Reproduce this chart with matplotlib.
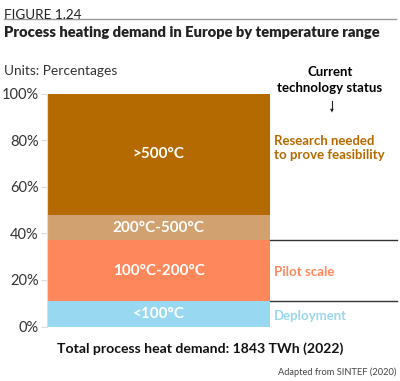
import matplotlib.pyplot as plt

plt.rcParams['font.family'] = ['Lato', 'DejaVu Sans']

ranges = ['<100°C', '100°C-200°C', '200°C-500°C', '>500°C']
shares = [11, 26, 11, 52]
colors = ['#98D8F0', '#FF875C', '#D1A26F', '#B56A00']
ticks = [0, 20, 40, 60, 80, 100]

fig = plt.figure(figsize=(4, 3.81), dpi=100)
ax = fig.add_axes([0.1175, 0.143, 0.5575, 0.611])

bottom = 0
for name, val, col in zip(ranges, shares, colors):
    ax.bar(0, val, width=1, bottom=bottom, color=col, edgecolor='none')
    ax.text(0, bottom + val / 2, name, ha='center', va='center',
            color='white', fontsize=11, fontweight='bold')
    bottom += val

ax.set_xlim(-0.5, 0.5)
ax.set_ylim(0, 100)
ax.set_yticks(ticks)
ax.set_yticklabels([f'{t}%' for t in ticks], fontsize=10.5, color='#333333')
ax.set_xticks([])
for s in ['top', 'right', 'bottom']:
    ax.spines[s].set_visible(False)
ax.spines['left'].set_color('#dddddd')
ax.tick_params(axis='y', color='#dddddd', length=4, pad=2)

# status separators on the right
for y in [shares[0], shares[0] + shares[1]]:
    ax.plot([0.5, 0.5 + 127 / 223], [y, y], color='#333333', lw=1,
            clip_on=False)

fig.text(0.01, 0.977, 'FIGURE 1.24', fontsize=9.7, color='#222222', va='top')
fig.add_artist(plt.Line2D([0.01, 0.99], [0.95, 0.95], color='#999999', lw=1))
fig.text(0.01, 0.915, 'Process heating demand in Europe by temperature range',
         fontsize=10.6, fontweight='heavy', color='#222222', va='center')
fig.text(0.01, 0.814, 'Units: Percentages', fontsize=9.9, color='#333333', va='center')

fig.text(0.825, 0.81, 'Current', fontsize=9.5, fontweight='bold', ha='center', va='center')
fig.text(0.825, 0.77, 'technology status', fontsize=9.5, fontweight='bold', ha='center', va='center')
fig.add_artist(plt.Line2D([0.83, 0.83], [0.735, 0.71], color='#222222', lw=0.8))
fig.text(0.83, 0.712, '▼', fontsize=3.5, ha='center', va='center', color='#222222',
         family='DejaVu Sans')

fig.text(0.685, 0.612, 'Research needed\nto prove feasibility', fontsize=9.5,
         fontweight='bold', color='#B56A00', va='center', linespacing=1.15)
fig.text(0.685, 0.286, 'Pilot scale', fontsize=9.5, fontweight='bold',
         color='#FF875C', va='center')
fig.text(0.685, 0.17, 'Deployment', fontsize=9.5, fontweight='bold',
         color='#98D8F0', va='center')

fig.text(0.5, 0.084, 'Total process heat demand: 1843 TWh (2022)', fontsize=10.1,
         fontweight='bold', ha='center', va='center', color='#111111')
fig.text(0.99, 0.024, 'Adapted from SINTEF (2020)', fontsize=6.7, ha='right',
         va='center', color='#444444')

fig.savefig('out.png', dpi=100)
